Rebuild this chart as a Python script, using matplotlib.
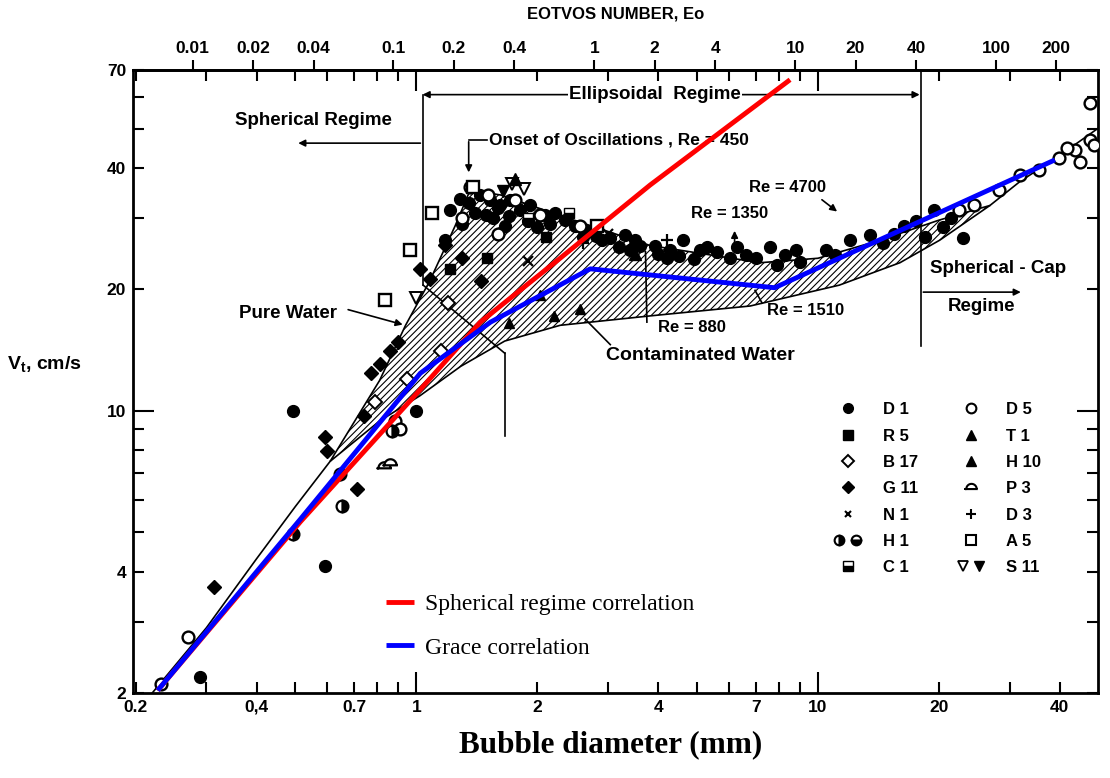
import numpy as np
import matplotlib.pyplot as plt
from matplotlib.lines import Line2D
from matplotlib.legend_handler import HandlerTuple
from matplotlib.path import Path
from matplotlib.ticker import NullFormatter, NullLocator

plt.rcParams['font.family'] = ['Liberation Sans', 'DejaVu Sans']
plt.rcParams['font.weight'] = 'bold'
plt.rcParams['hatch.linewidth'] = 0.8
plt.rcParams['mathtext.fontset'] = 'custom'
plt.rcParams['mathtext.rm'] = 'Liberation Sans:bold'

# --- curves (d in mm, Vt in cm/s) ---
pure_d = [0.61, 0.81, 0.94, 1.08, 1.25, 1.36, 1.62, 2.28, 3.82, 7.18, 10.0, 14.3, 20.0, 26.8]
pure_v = [7.5, 11.9, 16.3, 21.0, 28.8, 35.2, 34.3, 30.5, 25.7, 23.3, 23.9, 26.5, 29.7, 32.3]
cont_d = [0.61, 0.81, 1.02, 1.29, 1.66, 2.28, 3.82, 6.78, 11.3, 16.0, 20.1, 26.8]
cont_v = [7.5, 9.44, 10.9, 12.9, 14.9, 16.3, 17.2, 18.2, 20.5, 23.3, 26.5, 32.3]
small_d = [0.22, 0.3, 0.4, 0.5, 0.61]
small_v = [2.0, 2.9, 4.3, 5.8, 7.5]
cap_d = [26.8, 31.8, 40.0, 50.0]
cap_v = [32.3, 37.0, 43.0, 50.3]

red_d = [0.227, 0.515, 1.023, 1.443, 2.28, 3.82, 8.52]
red_v = [2.03, 5.32, 11.3, 16.6, 23.9, 36.3, 66.2]
blue_d = [0.227, 0.515, 1.023, 1.53, 2.71, 7.8, 38.9]
blue_v = [2.03, 5.4, 12.4, 16.6, 22.5, 20.2, 41.9]

# --- experimental points ---
d1_d = [0.29, 0.494, 0.594, 1.0, 1.287, 1.35, 1.443, 1.528, 1.618, 1.714, 1.815, 1.922,
        2.09, 2.22, 2.35, 2.49, 2.71, 3.04, 3.31, 3.61, 3.93, 4.29, 4.61, 5.09, 5.6, 6.05,
        6.6, 7.61, 8.28, 9.03, 12.0, 13.5, 16.4, 19.5, 18.5, 22.9, 1.215, 1.49, 1.66, 1.18,
        1.4, 1.55, 1.7, 1.9, 2.0, 2.6, 2.9, 3.2, 3.5, 4.0, 4.5, 4.9, 5.3, 6.3, 7.0, 7.9,
        8.8, 10.5, 11.0, 14.5, 15.5, 17.5, 20.5, 21.5, 1.3, 1.6, 2.15, 2.8, 3.4, 4.2]
d1_v = [2.19, 10.0, 4.12, 10.0, 33.6, 32.7, 34.3, 33.3, 32.4, 33.3, 31.4, 32.4,
        30.6, 31.0, 29.7, 28.8, 28.0, 26.8, 27.3, 25.7, 25.7, 25.0, 26.5, 25.0, 24.7, 23.9,
        24.3, 25.5, 24.3, 23.4, 26.5, 27.3, 28.8, 31.4, 27.0, 26.8, 31.4, 30.6, 28.8, 26.5,
        31.0, 30.0, 30.5, 29.5, 28.5, 27.0, 26.5, 25.5, 26.5, 24.5, 24.2, 23.8, 25.5, 25.5,
        24.0, 23.0, 25.0, 25.0, 24.3, 26.0, 27.5, 29.5, 28.5, 30.0, 29.0, 31.8, 29.0, 27.2,
        25.0, 24.0]
d5_d = [0.231, 0.27, 0.887, 0.91, 1.363, 1.51, 1.76, 2.035, 2.56, 22.5, 24.5, 28.3,
        31.8, 35.6, 39.9, 43.6, 47.5, 48.8, 47.5, 44.8, 41.8, 1.3, 1.6]
d5_v = [2.1, 2.75, 9.44, 9.0, 35.9, 34.3, 33.3, 30.6, 28.8, 31.4, 32.4, 35.3,
        38.5, 39.5, 42.3, 44.3, 46.9, 45.5, 58.0, 41.4, 44.8, 30.0, 27.5]
a5_d = [0.837, 0.966, 1.096, 1.38, 2.81]
a5_v = [18.8, 25.0, 30.9, 35.9, 28.8]
s11o_d = [1.0, 1.73, 1.85]
s11o_v = [19.0, 36.5, 35.5]
s11f_d = [1.64]
s11f_v = [35.0]
g11_d = [0.313, 0.594, 0.6, 0.713, 0.77, 0.814, 0.86, 0.9, 1.023, 1.083, 1.18, 0.74, 1.3, 1.45]
g11_v = [3.67, 8.6, 7.95, 6.4, 12.4, 13.1, 14.1, 14.8, 22.5, 21.2, 25.8, 9.7, 24.0, 21.0]
h1_d = [0.494, 0.647, 0.654, 0.87]
h1_v = [4.95, 6.96, 5.8, 8.9]
p3_d = [0.83, 0.86]
p3_v = [7.3, 7.45]
b17_d = [0.79, 1.15, 1.2, 0.95]
b17_v = [10.5, 14.1, 18.5, 12.0]
r5_d = [1.215, 1.5, 2.1]
r5_v = [22.5, 24.0, 27.0]
c1_d = [1.9, 2.4]
c1_v = [30.0, 31.0]
n1_d = [1.9, 3.0]
n1_v = [23.5, 27.5]
t1_d = [2.03, 2.56, 1.7, 2.2]
t1_v = [19.4, 17.9, 16.5, 17.2]
h10_d = [1.76, 3.5]
h10_v = [37.5, 24.5]
d3_d = [2.6, 4.2]
d3_v = [26.0, 26.5]

x_ticks = [0.2, 0.4, 0.7, 1, 2, 4, 7, 10, 20, 40]
x_labels = ['0.2', '0,4', '0.7', '1', '2', '4', '7', '10', '20', '40']
x_minor = [0.3, 0.5, 0.6, 0.8, 0.9, 3, 5, 6, 8, 9, 30]
y_ticks = [2, 4, 10, 20, 40, 70]
y_minor = [3, 5, 6, 7, 8, 9, 30, 50, 60]
eo_ticks = [0.01, 0.02, 0.04, 0.1, 0.2, 0.4, 1, 2, 4, 10, 20, 40, 100, 200]
eo_labels = ['0.01', '0.02', '0.04', '0.1', '0.2', '0.4', '1', '2', '4', '10', '20', '40', '100', '200']
EO_K = 0.13  # Eo = k * d^2 (d in mm)

fig = plt.figure(figsize=(11.1, 7.78), dpi=100)
ax = fig.add_axes([0.1198, 0.1093, 0.8694, 0.8008])
ax.set_xscale('log')
ax.set_yscale('log')
ax.set_xlim(0.197, 49.8)
ax.set_ylim(2, 70)

# hatched band between pure and contaminated water
ax.fill(pure_d + cont_d[::-1], pure_v + cont_v[::-1], facecolor='none',
        edgecolor='black', hatch='/////', lw=1.2, zorder=1)
ax.plot(small_d, small_v, color='black', lw=1.2, zorder=2)
ax.plot(cap_d, cap_v, color='black', lw=1.2, zorder=2)

ms = 8.5
ax.plot(d1_d, d1_v, 'o', color='black', ms=ms, zorder=3)
ax.plot(d5_d, d5_v, 'o', mfc='white', mec='black', mew=1.7, ms=ms, zorder=3)
ax.plot(a5_d, a5_v, 's', mfc='white', mec='black', mew=1.7, ms=ms, zorder=3)
ax.plot(s11o_d, s11o_v, 'v', mfc='white', mec='black', mew=1.4, ms=ms, zorder=3)
ax.plot(s11f_d, s11f_v, 'v', color='black', ms=ms, zorder=3)
ax.plot(g11_d, g11_v, 'D', color='black', ms=ms - 1, zorder=3)
ax.plot(h1_d, h1_v, 'o', mfc='black', mfcalt='white', fillstyle='right', mec='black',
        mew=1.6, ms=ms, zorder=3)
p3_marker = Path(np.array([[np.cos(t), np.sin(t) - 0.3] for t in np.linspace(0, np.pi, 20)]
                          + [[-1.2, -0.3], [1.2, -0.3]]))
ax.plot(p3_d, p3_v, marker=p3_marker, ls='none', mfc='white', mec='black', mew=1.6,
        ms=ms + 2, zorder=3)
ax.plot(b17_d, b17_v, 'D', mfc='white', mec='black', mew=1.4, ms=ms - 1, zorder=3)
ax.plot(r5_d, r5_v, 's', color='black', ms=ms - 1, zorder=3)
ax.plot(c1_d, c1_v, 's', mfc='black', mfcalt='white', fillstyle='bottom', mec='black',
        ms=ms - 1, zorder=3)
ax.plot(n1_d, n1_v, 'x', color='black', mew=1.6, ms=ms - 2, zorder=3)
ax.plot(t1_d, t1_v, '^', color='black', ms=ms - 1, zorder=3)
ax.plot(h10_d, h10_v, '^', color='black', ms=ms, zorder=3)
ax.plot(d3_d, d3_v, '+', color='black', mew=1.6, ms=ms, zorder=3)

# correlations
red, = ax.plot(red_d, red_v, color='#ff0000', lw=3.5, zorder=5, solid_capstyle='butt')
blue, = ax.plot(blue_d, blue_v, color='#0000ff', lw=3.5, zorder=6, solid_capstyle='butt')

# regime boundaries and labels
fs = 13.5
lk = dict(color='black', lw=1.2, zorder=2)
ak = dict(arrowstyle='-|>', color='black', lw=1.2, mutation_scale=10)
ax.plot([1.04, 1.04], [60.8, 20.5], **lk)
ax.plot([1.04, 1.66], [20.5, 13.9], **lk)
ax.plot([1.66, 1.66], [13.9, 8.66], **lk)
ax.plot([18, 18], [70, 14.5], **lk)
ax.annotate('', xy=(1.02, 60.8), xytext=(18.2, 60.8),
            arrowprops=dict(ak, arrowstyle='<|-|>'))
ax.text(3.93, 60.8, 'Ellipsoidal  Regime', ha='center', va='center', fontsize=fs,
        bbox=dict(facecolor='white', edgecolor='none', pad=1))
ax.annotate('', xy=(0.5, 46.1), xytext=(1.04, 46.1), arrowprops=ak)
ax.text(0.555, 52.6, 'Spherical Regime', ha='center', va='center', fontsize=fs)
ax.annotate('', xy=(32.5, 19.7), xytext=(18, 19.7), arrowprops=ak)
ax.text(19.0, 22.5, 'Spherical - Cap', ha='left', va='center', fontsize=fs)
ax.text(21.0, 18.1, 'Regime', ha='left', va='center', fontsize=fs)

ax.plot([1.35, 1.5], [46.9, 46.9], **lk)
ax.annotate('', xy=(1.35, 38.4), xytext=(1.35, 47.2), arrowprops=ak)
ax.text(1.52, 46.9, 'Onset of Oscillations , Re = 450', ha='left', va='center', fontsize=12.5)

ax.text(8.42, 35.8, 'Re = 4700', ha='center', va='center', fontsize=12)
ax.annotate('', xy=(11.3, 30.9), xytext=(10.1, 33.7), arrowprops=ak)
ax.text(6.04, 30.9, 'Re = 1350', ha='center', va='center', fontsize=12)
ax.annotate('', xy=(6.2, 28.4), xytext=(6.2, 24.7), arrowprops=ak)
ax.text(4.86, 16.1, 'Re = 880', ha='center', va='center', fontsize=12)
ax.plot([3.75, 3.72], [16.6, 24.8], **lk)
ax.text(9.29, 17.7, 'Re = 1510', ha='center', va='center', fontsize=12)
ax.plot([7.26, 6.97], [18.5, 19.9], **lk)
ax.text(5.09, 13.7, 'Contaminated Water', ha='center', va='center', fontsize=14)
ax.plot([3.04, 2.63], [14.6, 16.9], **lk)
ax.text(0.48, 17.4, 'Pure Water', ha='center', va='center', fontsize=fs)
ax.annotate('', xy=(0.939, 16.3), xytext=(0.666, 17.9), arrowprops=ak)

# axes styling
for s in ax.spines.values():
    s.set_linewidth(2)
ax.set_xticks(x_ticks, labels=x_labels)
ax.set_xticks(x_minor, minor=True)
ax.set_yticks(y_ticks, labels=[str(t) for t in y_ticks])
ax.set_yticks(y_minor, minor=True)
ax.xaxis.set_minor_formatter(NullFormatter())
ax.yaxis.set_minor_formatter(NullFormatter())
ax.tick_params(which='both', direction='in', top=True, right=True, width=1.5,
               length=8, labelsize=12.5, pad=5)
for t in ax.xaxis.get_major_ticks():
    if t.get_loc() in (1, 10):
        t.tick1line.set_markersize(15)
        t.tick2line.set_markersize(15)
for t in ax.yaxis.get_major_ticks():
    if t.get_loc() == 10:
        t.tick1line.set_markersize(15)
        t.tick2line.set_markersize(15)

secax = ax.secondary_xaxis('top', functions=(lambda d: EO_K * d ** 2,
                                             lambda e: np.sqrt(np.maximum(e, 1e-12) / EO_K)))
secax.set_xticks(eo_ticks, labels=eo_labels)
secax.xaxis.set_minor_locator(NullLocator())
secax.tick_params(direction='out', length=7, width=1.5, labelsize=12.5, pad=3)
secax.spines['top'].set_linewidth(2)

fig.text(0.555, 0.982, 'EOTVOS NUMBER, Eo', ha='center', va='center', fontsize=12)
fig.text(0.006, 0.531, r'V$_\mathrm{t}$, cm/s', ha='left', va='center', fontsize=14)
fig.text(0.55, 0.043, 'Bubble diameter (mm)', ha='center', va='center', fontsize=22.5,
         family=['Liberation Serif', 'DejaVu Serif'], weight='bold')

# symbol legend
def mk(marker, **kw):
    base = dict(ls='none', color='black', ms=7)
    base.update(kw)
    return Line2D([], [], marker=marker, **base)

handles = [mk('o'), mk('s'), mk('D', mfc='white', mew=1.4, ms=6), mk('D', ms=6),
           mk('x', mew=1.5, ms=5),
           (mk('o', fillstyle='right', mfcalt='white', mew=1.5),
            mk('o', fillstyle='bottom', mfcalt='white', mew=1.5)),
           mk('s', fillstyle='bottom', mfcalt='white'),
           mk('o', mfc='white', mew=1.5), mk('^'), mk('^'),
           mk(p3_marker, mfc='white', mew=1.5, ms=9), mk('+', mew=1.5),
           mk('s', mfc='white', mew=1.5), (mk('v', mfc='white', mew=1.3), mk('v'))]
labels = ['D 1', 'R 5', 'B 17', 'G 11', 'N 1', 'H 1', 'C 1',
          'D 5', 'T 1', 'H 10', 'P 3', 'D 3', 'A 5', 'S 11']
leg1 = ax.legend(handles, labels, ncol=2, loc='upper left', bbox_to_anchor=(0.718, 0.48),
                 frameon=False, fontsize=12, labelspacing=0.68, handlelength=1.6,
                 handletextpad=1.3, columnspacing=2.4, borderpad=0,
                 handler_map={tuple: HandlerTuple(ndivide=None, pad=0.4)})
ax.add_artist(leg1)

ax.legend([red, blue], ['Spherical regime correlation', 'Grace correlation'],
          loc='upper left', bbox_to_anchor=(0.25, 0.178), frameon=False,
          prop=dict(family=['Liberation Serif', 'DejaVu Serif'], weight='normal', size=17),
          handlelength=1.2, handletextpad=0.45, labelspacing=0.92, borderpad=0)

fig.savefig('out.png', dpi=100)
